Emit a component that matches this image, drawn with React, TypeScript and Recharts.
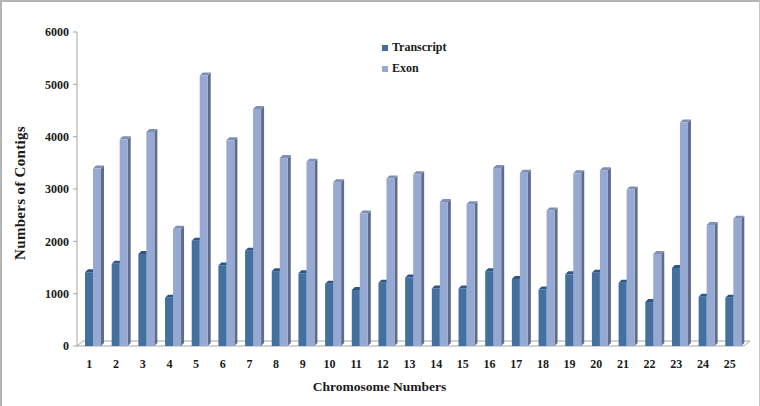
import { BarChart, Bar, XAxis, YAxis, Label, Legend } from 'recharts'

const chromosomes = [
  '1', '2', '3', '4', '5', '6', '7', '8', '9', '10', '11', '12', '13',
  '14', '15', '16', '17', '18', '19', '20', '21', '22', '23', '24', '25',
]
const transcript = [
  1410, 1570, 1760, 920, 2010, 1540, 1820, 1430, 1390, 1190, 1070, 1210, 1310,
  1100, 1100, 1430, 1280, 1080, 1370, 1400, 1210, 840, 1490, 940, 920,
]
const exon = [
  3390, 3950, 4090, 2240, 5170, 3930, 4530, 3590, 3520, 3130, 2530, 3200, 3280,
  2750, 2710, 3400, 3310, 2590, 3300, 3360, 2990, 1760, 4270, 2310, 2430,
]
const yTicks = [0, 1000, 2000, 3000, 4000, 5000, 6000]

const data = chromosomes.map((name, i) => ({ name, transcript: transcript[i], exon: exon[i] }))

const FONT = '"Liberation Serif", serif'
const AXIS = '#a6a6a6'
const DEPTH = 3

// fake 3D column: front face plus a top and a side face
function Column3D(props: any) {
  const { x, y, width, height, fill, top, side } = props
  const r = x + width
  const b = y + height
  return (
    <g>
      <polygon points={`${r},${y} ${r + DEPTH},${y - DEPTH} ${r + DEPTH},${b - DEPTH} ${r},${b}`} fill={side} />
      <polygon points={`${x},${y} ${x + DEPTH},${y - DEPTH} ${r + DEPTH},${y - DEPTH} ${r},${y}`} fill={top} />
      <rect x={x} y={y} width={width} height={height} fill={fill} />
    </g>
  )
}

function LegendBox({ payload }: any) {
  return (
    <div>
      {(payload || []).map((p: any) => (
        <div
          key={p.value}
          style={{ display: 'flex', alignItems: 'center', height: 21, fontFamily: FONT, fontWeight: 700, fontSize: 12, color: '#1a1a1a' }}
        >
          <span style={{ width: 6, height: 6, background: p.color, marginRight: 4 }} />
          {p.value}
        </div>
      ))}
    </div>
  )
}

export default function App() {
  return (
    <div
      style={{
        position: 'absolute',
        left: 0,
        top: 0,
        width: 760,
        height: 406,
        background: '#fff',
        boxSizing: 'border-box',
        borderTop: '2px solid #b5b5b5',
        borderLeft: '2px solid #b5b5b5',
        borderRight: '1px solid #c8c8c8',
      }}
    >
      <div style={{ position: 'absolute', left: -2, top: -2 }}>
        <BarChart
          width={760}
          height={406}
          data={data}
          barSize={8}
          barGap={0}
          margin={{ top: 32, right: 10, bottom: 0, left: 0 }}
        >
          {/* chart floor */}
          <path d="M77 346 L83 341 L750 341 L744 346 Z" fill="#fff" stroke={AXIS} strokeWidth={1} />
          <XAxis
            dataKey="name"
            axisLine={false}
            tickLine={false}
            interval={0}
            padding={{ left: 3, right: 3 }}
            tickMargin={7}
            tick={{ fontFamily: FONT, fontWeight: 700, fontSize: 12, fill: '#1a1a1a', dx: -4 }}
            height={60}
          >
            <Label
              value="Chromosome Numbers"
              position="insideBottom"
              offset={15}
              dx={-34}
              style={{ fontFamily: FONT, fontWeight: 700, fontSize: 13.5, fill: '#1a1a1a' }}
            />
          </XAxis>
          <YAxis
            width={77}
            domain={[0, 6000]}
            ticks={yTicks}
            interval={0}
            axisLine={{ stroke: AXIS }}
            tickLine={{ stroke: AXIS }}
            tickSize={4}
            tickMargin={4}
            tick={{ fontFamily: FONT, fontWeight: 700, fontSize: 12, fill: '#1a1a1a' }}
          >
            <Label
              value="Numbers of Contigs"
              angle={-90}
              position="insideLeft"
              offset={20}
              dy={4}
              style={{ textAnchor: 'middle', fontFamily: FONT, fontWeight: 700, fontSize: 15, fill: '#1a1a1a', letterSpacing: 0.3 }}
            />
          </YAxis>
          <Legend
            layout="horizontal"
            verticalAlign="middle"
            align="center"
            itemSorter={null}
            wrapperStyle={{ left: 382, top: 37, width: 90 }}
            content={<LegendBox />}
          />
          <Bar
            dataKey="transcript"
            name="Transcript"
            fill="#44709f"
            isAnimationActive={false}
            shape={<Column3D top="#2f5683" side="#375d88" />}
          />
          <Bar
            dataKey="exon"
            name="Exon"
            fill="#95a9d2"
            isAnimationActive={false}
            shape={<Column3D top="#7e90b6" side="#5f6d8b" />}
          />
        </BarChart>
      </div>
    </div>
  )
}
